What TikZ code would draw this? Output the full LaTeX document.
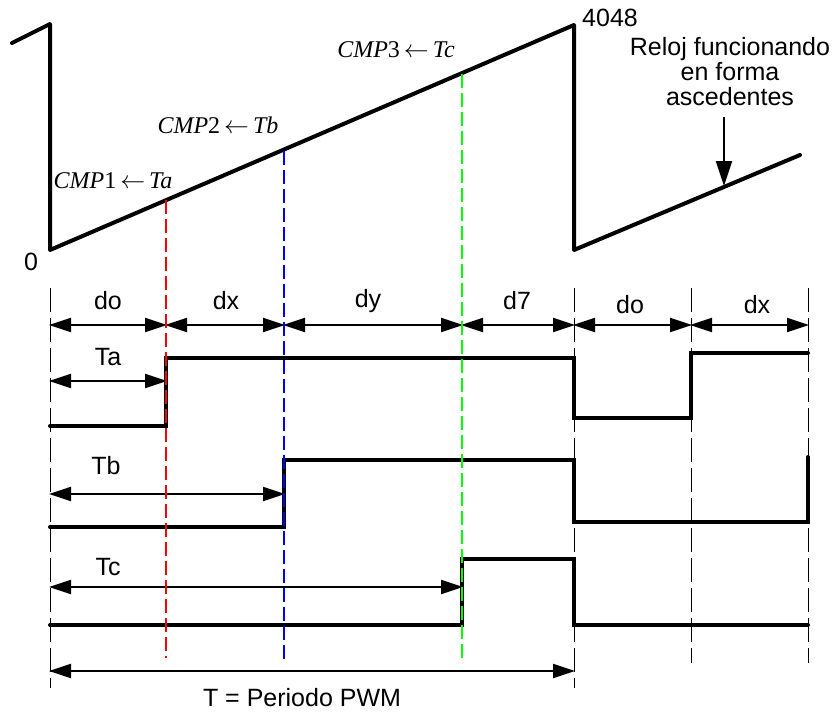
\documentclass[tikz,border=0pt]{standalone}
\usepackage{fontspec}
\setmainfont{Liberation Serif}
\setsansfont{Liberation Sans}
\usetikzlibrary{arrows.meta}
\begin{document}
\begin{tikzpicture}[x=1pt,y=-1pt,
  lab/.style={font=\sffamily\fontsize{25}{25}\selectfont, inner sep=0pt},
  cmp/.style={font=\fontsize{24}{24}\selectfont, inner sep=0pt},
  saw/.style={line width=4pt, line join=round, line cap=round},
  sig/.style={line width=4pt, line join=miter, line cap=round},
  tip/.tip={Triangle[length=22pt,width=14pt]},
  bigtip/.tip={Triangle[length=25pt,width=16pt]},
  dim/.style={line width=2pt, tip-tip, shorten <=-1pt, shorten >=-1pt},
  onearrow/.style={line width=2pt, -bigtip},
  guide/.style={line width=1pt, dash pattern=on 24pt off 6pt},
  cdash/.style={line width=1.6pt, dash pattern=on 14pt off 5pt}]
\useasboundingbox (0,0) rectangle (836,712);
% sawtooth
\draw[saw] (12,43) -- (50,24) -- (50,250) -- (574,25) -- (574,250) -- (800,155);
\node[lab] (zero) at (31,262) {0};
\node[lab, anchor=west] (max) at (582,18) {4048};
\node[cmp] (c1) at (113,181) {\textit{CMP}1\,$\leftarrow$\,\textit{Ta}};
\node[cmp] (c2) at (218,125) {\textit{CMP}2\,$\leftarrow$\,\textit{Tb}};
\node[cmp] (c3) at (396,50) {\textit{CMP}3\,$\leftarrow$\,\textit{Tc}};
\node[lab, align=center] (reloj) at (730,72) {Reloj funcionando\\en forma\\ascedentes};
\coordinate (rt) at (724,117);
\coordinate (rh) at (724,186);
\draw[onearrow] (rt) -- (rh);
% guide lines
\draw[guide] (50,288) -- (50,688);
\draw[guide] (574,288) -- (574,688);
\draw[guide] (691,288) -- (691,663);
\draw[guide] (808,288) -- (808,663);
% tick coordinates
\coordinate (d0) at (50,325);
\coordinate (d1) at (166,325);
\coordinate (d2) at (284,325);
\coordinate (d3) at (462,325);
\coordinate (d4) at (574,325);
\coordinate (d5) at (691,325);
\coordinate (d6) at (808,325);
\draw[dim] (d0) -- (d1);
\draw[dim] (d1) -- (d2);
\draw[dim] (d2) -- (d3);
\draw[dim] (d3) -- (d4);
\draw[dim] (d4) -- (d5);
\draw[dim] (d5) -- (d6);
\node[lab] (l0) at (108,301) {do};
\node[lab] (l1) at (226,301) {dx};
\node[lab] (l2) at (368,301) {dy};
\node[lab] (l3) at (517,301) {d7};
\node[lab] (l4) at (630,305) {do};
\node[lab] (l5) at (757,305) {dx};
% Ta
\coordinate (ta0) at (50,381);
\coordinate (ta1) at (166,381);
\draw[dim] (ta0) -- (ta1);
\node[lab] (tal) at (108,357) {Ta};
% Tb
\coordinate (tb0) at (50,494);
\coordinate (tb1) at (284,494);
\draw[dim] (tb0) -- (tb1);
\node[lab] (tbl) at (106,466) {Tb};
% Tc
\coordinate (tc0) at (50,587);
\coordinate (tc1) at (462,587);
\draw[dim] (tc0) -- (tc1);
\node[lab] (tcl) at (108,567) {Tc};
% T
\coordinate (t0) at (50,671);
\coordinate (t1) at (574,671);
\draw[dim] (t0) -- (t1);
\node[lab] (tl) at (302,698) {T = Periodo PWM};
% signals
\draw[sig] (50,426) -- (166,426) -- (166,358) -- (574,358) -- (574,418) -- (691,418) -- (691,353) -- (808,353);
\draw[sig] (50,527) -- (284,527) -- (284,460) -- (574,460) -- (574,522) -- (808,522) -- (808,457);
\draw[sig] (50,625) -- (462,625) -- (462,559) -- (574,559) -- (574,625) -- (808,625);
% coloured compare lines
\draw[cdash, red] (166,200) -- (166,658);
\draw[cdash, blue] (284,151) -- (284,663);
\draw[cdash, green] (462,74) -- (462,663);
\end{tikzpicture}
\end{document}
